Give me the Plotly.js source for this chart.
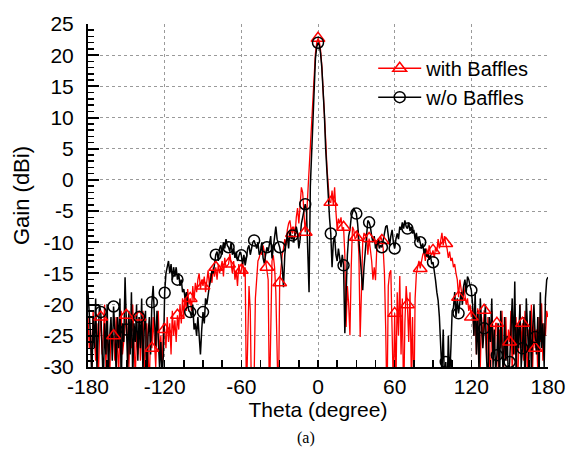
<!DOCTYPE html>
<html><head><meta charset="utf-8">
<script src="https://cdn.plot.ly/plotly-3.0.1.min.js"></script>
<style>html,body{margin:0;padding:0;background:#fff}#chart{width:571px;height:449px}</style>
</head><body><div id="chart"></div>
<script>
// Sampling grid of the measured patterns (degrees)
const thetaStart = -180, thetaStep = 1;
const xTickVals = [-180, -120, -60, 0, 60, 120, 180];
const xTickText = ['-180', '-120', '-60', '0', '60', '120', '180'];
const yTickVals = [-30, -25, -20, -15, -10, -5, 0, 5, 10, 15, 20, 25];
const yTickText = ['-30', '-25', '-20', '-15', '-10', '-5', '0', '5', '10', '15', '20', '25'];
const seriesNames = ['with Baffles', 'w/o Baffles'];
const markerEvery = 10;

// Gain (dBi), "with Baffles", theta = -180 .. 180 step 1
const gainWith = [
 -22,-27,-24,-31,-21,-26,-29,-23,-33,-25,
 -22,-28,-25,-20,-30,-24,-27,-32,-23,-26,
 -25,-29,-22,-27,-31,-24,-21,-28,-26,-23,
 -21.7,-26,-30,-23,-27,-20,-25,-32,-24,-28,
 -22,-29,-25,-21,-31,-26,-23,-28,-33,-24,
 -27,-22,-26,-30,-24,-21,-28,-25,-31,-23,
 -24,-27,-22,-26,-23,-28,-21,-25,-22.5,-26,
 -21.7,-24,-20,-23,-19,-22,-18.5,-21,-17.5,-20,
 -19,-21,-17,-19.5,-16.5,-18,-16,-15,-17.5,-16,
 -17,-15.5,-18,-16,-14.5,-17,-15,-16.5,-14,-15.5,
 -14,-16,-13.5,-15,-14,-13,-15.5,-12.5,-14,-13.7,
 -13.5,-11.8,-14,-15,-13,-16,-14.5,-17,-13.5,-15,
 -14.5,-13,-15.5,-14,-35,-24,-17,-21,-36,-33,
 -32,-19,-15,-13,-12.5,-11.5,-12,-10.5,-11.5,-13,
 -14,-16,-36,-20,-13,-12.1,-14,-18,-26,-37,
 -16.5,-14,-12,-11,-9.5,-10.5,-8,-7,-6.5,-8,
 -8.6,-7.5,-9,-6,-4.5,-7,-3,-1.2,-2,-5,
 -8.4,-6,-2,1,5,9.5,14,17.5,20.3,22,
 22.7,22.2,20.8,18.3,15,11,6.5,2,-1.5,-3.5,
 -3.6,-1.7,-4,-1.2,-5,-8,-6.2,-7,-6,-8,
 -7.6,-12,-23.6,-17,-20,-24.9,-14,-7.5,-8,-9.5,
 -9.2,-8,-12,-25.2,-18,-10,-8.5,-9,-8.5,-12,
 -9.4,-11,-13,-16,-14,-16.1,-11,-9.5,-10,-9,
 -9.7,-11,-15,-24,-37,-17,-15,-14.5,-22,-34,
 -21.4,-33,-18,-25,-15.4,-28,-19,-36,-23,-17,
 -20,-26,-18,-31,-22,-37,-19,-15,-14,-13,
 -14.2,-13,-12,-11.5,-13,-11,-12.5,-10.5,-11.8,-12,
 -11.3,-12.5,-10.8,-11.5,-9.5,-11,-10,-8.5,-10.5,-9,
 -10.2,-11,-12.5,-11.5,-13,-12.5,-14,-13.5,-15,-16,
 -18.8,-16,-17.5,-19,-17,-18.5,-20,-19,-21,-20,
 -22,-20.5,-25,-21,-28,-20.6,-23,-30,-22,-26,
 -20.9,-24,-29,-22,-27,-33,-21,-25,-28,-23,
 -23,-30,-24,-27,-21,-32,-25,-22,-29,-24,
 -26,-21,-31,-24,-28,-22,-35,-25,-20,-27,
 -23,-29,-21,-26,-32,-24,-27,-20,-30,-22,
 -27,-24,-31,-22,-26,-19.8,-29,-23,-25,-21,
 -22
];

// Gain (dBi), "w/o Baffles", theta = -180 .. 180 step 1
const gainWithout = [
 -18,-21,-25,-32,-22,-27,-19,-30,-24,-20,
 -21.2,-26,-33,-23,-28,-20,-31,-25,-22,-29,
 -20.3,-24,-31,-22,-27,-19,-33,-23,-26,-15.6,
 -24,-30,-21,-28,-18,-32,-23,-26,-20,-29,
 -22,-27,-19,-31,-24,-21,-33,-25,-22,-28,
 -19.6,-17,-22,-27,-21,-25,-30,-26,-32,-28,
 -18.1,-15,-14,-13,-15,-13.5,-16,-14,-15.5,-14,
 -16,-15,-17,-16,-18,-17.5,-19,-18,-20,-21,
 -21.2,-22,-20,-24,-23,-25,-22,-26,-28,-24,
 -21.2,-23,-19,-20,-18,-17,-16,-14.5,-15,-13,
 -12,-11.5,-13,-11,-10.5,-12,-10,-11,-9.5,-10.5,
 -10.8,-11.5,-10,-12,-11,-12.5,-11.5,-13,-12,-11.5,
 -12.1,-13.5,-12,-13.7,-12.5,-11,-10.5,-12,-11,-10,
 -9.7,-10.5,-11,-10,-12,-11.5,-10,-12.5,-13.4,-12,
 -10.8,-11.5,-10,-9,-12.6,-11,-9,-7.5,-9.5,-10,
 -10.8,-12,-14,-17.2,-12,-10,-9,-11,-8,-9.5,
 -8.9,-10,-9,-7.5,-8.5,-11,-9.5,-7,-6,-5,
 -3.9,-5,-11,-18,-1,4.5,11,16,19.5,21.3,
 22,21.6,20.3,18,15,10.5,5,0.5,-3.5,-6,
 -8.6,-14,-10,-9,-12,-13,-11,-12.5,-14,-12,
 -13.7,-24.6,-18,-12,-9,-8,-6,-5,-4.5,-5,
 -5.4,-7,-10,-13,-15,-17.7,-14,-11,-8,-6.5,
 -6.8,-7.5,-9,-10,-9,-11,-10,-9.5,-11,-10.5,
 -10.8,-9.5,-8.5,-7.5,-7.3,-9,-10.5,-9,-8,-10,
 -11,-9.5,-8.6,-9.5,-7.5,-8,-6.8,-7.8,-6.5,-7.5,
 -7.8,-6.8,-8.2,-7.5,-8.6,-8,-9.5,-8.5,-10,-9.2,
 -10,-11,-10.2,-11.8,-11,-12.3,-11.8,-12.8,-12,-13.5,
 -13.2,-14.5,-16.1,-18,-19.3,-22,-26,-31,-24,-33,
 -29.2,-35,-25,-32,-27,-21,-20.5,-18,-22,-19,
 -21.4,-19,-18,-20,-17,-16,-18,-15.5,-16,-17,
 -17.7,-20,-25,-18,-28,-21,-31,-19,-24,-27,
 -23.8,-20,-29,-33,-22,-26,-19,-30,-24,-31,
 -28.1,-23,-34,-21,-27,-31,-22,-29,-25,-32,
 -29.2,-24,-19,-28,-16.3,-31,-23,-27,-20,-30,
 -27,-22,-33,-19,-26,-29,-21,-31,-24,-20,
 -25.2,-28,-22,-32,-18,-27,-23,-30,-19,-16,
 -15.6
];

const theta = gainWith.map((_, i) => thetaStart + i * thetaStep);

function markerSubset(ys) {
  const mx = [], my = [];
  theta.forEach((t, i) => {
    if (t % markerEvery === 0 && Math.abs(t) < 180) { mx.push(t, null); my.push(ys[i], null); }
  });
  return { mx, my };
}
const mW = markerSubset(gainWith);
const mO = markerSubset(gainWithout);

const RED = '#ff0000', BLACK = '#000000';

const traces = [
  { x: theta, y: gainWith, mode: 'lines', line: { color: RED, width: 1.3 }, showlegend: false, hoverinfo: 'skip' },
  { x: theta, y: gainWithout, mode: 'lines', line: { color: BLACK, width: 1.5 }, showlegend: false, hoverinfo: 'skip' },
  { x: mW.mx, y: mW.my, mode: 'lines+markers', name: seriesNames[0], connectgaps: false,
    line: { color: RED, width: 1.5 },
    marker: { symbol: 'triangle-up-open', size: 12, color: RED, line: { width: 1.5 } } },
  { x: mO.mx, y: mO.my, mode: 'lines+markers', name: seriesNames[1], connectgaps: false,
    line: { color: BLACK, width: 1.5 },
    marker: { symbol: 'circle-open', size: 11, color: BLACK, line: { width: 1.5 } } }
];

const axisCommon = {
  showline: true, linecolor: '#000', linewidth: 2, mirror: false,
  showgrid: true, gridcolor: '#9a9a9a', griddash: 'dot', gridwidth: 1,
  zeroline: false, ticks: 'inside', tickcolor: '#000', fixedrange: true,
  tickmode: 'array', tickfont: { size: 21, color: '#000' }
};

const layout = {
  width: 571, height: 449,
  margin: { l: 88, r: 23, t: 24, b: 82, pad: 0 },
  paper_bgcolor: '#ffffff', plot_bgcolor: '#ffffff',
  font: { family: 'Liberation Sans, Arial, Helvetica, sans-serif', color: '#000', size: 21 },
  showlegend: true,
  legend: { x: 0.62, y: 0.928, xanchor: 'left', yanchor: 'top', bgcolor: 'rgba(0,0,0,0)',
    borderwidth: 0, font: { size: 20, color: '#000' }, itemwidth: 43, tracegroupgap: 0 },
  xaxis: Object.assign({}, axisCommon, {
    range: [-180, 180], tickvals: xTickVals, ticktext: xTickText, ticklen: 7, tickwidth: 1.5,
    minor: { dtick: 15, ticks: 'inside', ticklen: 7, tickwidth: 1.5, tickcolor: '#000', showgrid: false },
    ticklabelstandoff: 0,
    title: { text: 'Theta (degree)', font: { size: 21, color: '#000' }, standoff: 4 }
  }),
  yaxis: Object.assign({}, axisCommon, {
    range: [-30, 25], tickvals: yTickVals, ticktext: yTickText, ticklen: 11, tickwidth: 2,
    minor: { tickmode: 'linear', tick0: 0, dtick: 1, ticks: 'inside', ticklen: 6, tickwidth: 1.5, tickcolor: '#000', showgrid: false },
    ticklabelstandoff: 8,
    title: { text: 'Gain (dBi)', font: { size: 22, color: '#000' }, standoff: 8 }
  }),
  annotations: [{ text: '(a)', xref: 'paper', yref: 'paper', x: 0.474, y: -0.207,
    xanchor: 'center', yanchor: 'middle', showarrow: false,
    font: { family: 'Liberation Serif, Times New Roman, serif', size: 16, color: '#000' } }]
};

Plotly.newPlot('chart', traces, layout, { displayModeBar: false, staticPlot: true });
</script>
</body></html>
